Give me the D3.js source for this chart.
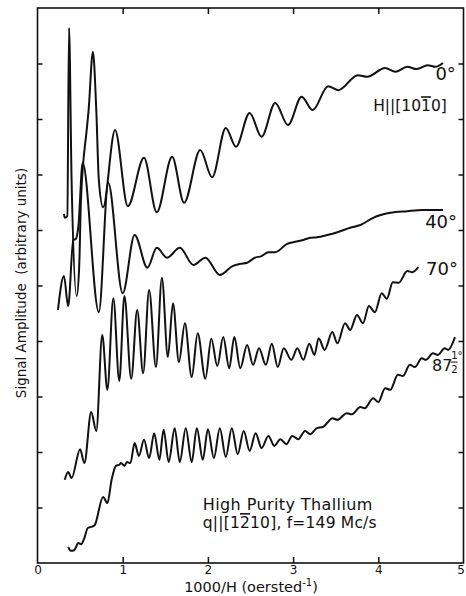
<!DOCTYPE html>
<html>
<head>
<meta charset="utf-8">
<script src="https://cdn.jsdelivr.net/npm/d3@7"></script>
<style>
body { margin: 0; background: #fff; }
svg { display: block; background: #fff; }
text { font-family: "DejaVu Sans", sans-serif; fill: #111; }
</style>
</head>
<body>
<svg width="466" height="596"></svg>
<script>
// 1000/H (oersted^-1) vs signal amplitude (arbitrary units), one array per angle
var deg0 = [[0.31,6.29],[0.32,6.22],[0.35,6.25],[0.37,9.64],[0.40,6.90],[0.46,4.81],[0.49,5.37],[0.51,6.54],
  [0.58,7.84],[0.60,8.16],[0.65,9.21],[0.69,8.16],[0.72,6.90],[0.77,6.41],[0.91,7.80],[1.06,6.43],[1.25,7.30],
  [1.40,6.32],[1.58,7.32],[1.72,6.49],[1.91,7.44],[2.05,6.95],[2.21,7.84],[2.33,7.50],[2.49,8.11],[2.63,7.68],
  [2.79,8.29],[2.94,7.89],[3.10,8.40],[3.23,8.16],[3.41,8.59],[3.53,8.52],[3.76,8.79],[3.87,8.76],[4.08,8.92],
  [4.20,8.85],[4.34,8.94],[4.45,8.90],[4.58,8.97],[4.67,8.94],[4.76,9.01]];

var deg40 = [[0.24,4.56],[0.31,5.17],[0.36,4.63],[0.42,5.82],[0.45,5.84],[0.48,6.07],[0.53,7.21],[0.72,4.52],
  [0.83,6.85],[1.00,4.86],[1.14,5.91],[1.29,5.32],[1.40,5.68],[1.52,5.50],[1.67,5.68],[1.83,5.37],[1.97,5.50],
  [2.14,5.19],[2.29,5.35],[2.38,5.39],[2.46,5.41],[2.55,5.50],[2.63,5.53],[2.71,5.60],[2.79,5.60],[2.93,5.75],
  [3.00,5.78],[3.12,5.82],[3.20,5.86],[3.28,5.87],[3.40,5.91],[3.52,5.96],[3.67,6.04],[3.79,6.09],[3.94,6.22],
  [4.14,6.31],[4.34,6.34],[4.52,6.36],[4.76,6.36]];

var deg70 = [[0.32,1.50],[0.36,1.64],[0.40,1.53],[0.50,2.05],[0.55,1.80],[0.63,2.72],[0.69,2.38],[0.76,4.11],
  [0.82,3.12],[0.89,4.77],[0.96,3.28],[1.02,4.81],[1.10,3.32],[1.17,4.56],[1.24,3.42],[1.31,4.92],[1.39,3.53],
  [1.46,5.14],[1.53,3.71],[1.59,4.68],[1.66,3.62],[1.73,4.32],[1.81,3.35],[1.88,4.14],[1.97,3.32],[2.04,4.04],
  [2.11,3.55],[2.18,4.07],[2.25,3.51],[2.31,4.07],[2.38,3.51],[2.46,3.93],[2.53,3.57],[2.60,3.87],[2.68,3.57],
  [2.75,3.95],[2.82,3.53],[2.89,3.87],[2.98,3.66],[3.05,3.87],[3.12,3.66],[3.19,3.95],[3.25,3.75],[3.30,4.05],
  [3.37,3.84],[3.46,4.16],[3.52,3.96],[3.61,4.32],[3.67,4.20],[3.75,4.47],[3.82,4.32],[3.89,4.63],[3.96,4.52],
  [4.04,4.86],[4.10,4.76],[4.17,5.06],[4.24,5.05],[4.34,5.26],[4.40,5.24],[4.47,5.33]];

var deg87 = [[0.36,0.29],[0.39,0.22],[0.43,0.23],[0.48,0.36],[0.51,0.34],[0.55,0.45],[0.59,0.63],[0.63,0.65],
  [0.67,0.68],[0.77,1.19],[0.82,1.08],[0.87,1.50],[0.92,1.75],[0.96,1.77],[0.98,1.80],[1.02,1.75],[1.05,1.82],
  [1.09,1.80],[1.14,2.16],[1.19,1.93],[1.25,2.22],[1.31,1.89],[1.37,2.34],[1.43,1.86],[1.48,2.40],[1.54,1.82],
  [1.61,2.43],[1.67,1.82],[1.74,2.43],[1.81,1.82],[1.87,2.43],[1.94,1.86],[2.00,2.41],[2.07,1.89],[2.14,2.43],
  [2.21,1.91],[2.28,2.43],[2.35,1.96],[2.42,2.38],[2.49,2.02],[2.56,2.34],[2.63,2.07],[2.71,2.29],[2.78,2.11],
  [2.85,2.23],[2.92,2.14],[2.99,2.29],[3.06,2.23],[3.14,2.38],[3.20,2.32],[3.28,2.43],[3.35,2.45],[3.41,2.54],
  [3.46,2.61],[3.52,2.58],[3.63,2.70],[3.69,2.68],[3.79,2.81],[3.84,2.79],[3.94,2.97],[4.00,2.90],[4.08,3.15],
  [4.14,3.12],[4.23,3.39],[4.29,3.37],[4.37,3.57],[4.43,3.53],[4.51,3.69],[4.56,3.66],[4.64,3.78],[4.70,3.75],
  [4.78,3.87],[4.82,3.84],[4.90,4.07]];

var xTicks = [0, 1, 2, 3, 4, 5];
var innerX = [1, 2, 3, 4];
var yTicks = [1, 2, 3, 4, 5, 6, 7, 8, 9];

var svg = d3.select("svg");

var x = d3.scaleLinear().domain([0, 5]).range([37.5, 463.5]);
var y = d3.scaleLinear().domain([0, 10]).range([563, 8]);

// frame
svg.append("rect")
  .attr("x", x(0)).attr("y", y(10))
  .attr("width", x(5) - x(0)).attr("height", y(0) - y(10))
  .attr("fill", "none").attr("stroke", "#111").attr("stroke-width", 1.6);

function inward(g) {
  g.select(".domain").remove();
  g.selectAll(".tick line").attr("stroke", "#111").attr("stroke-width", 1.5);
}

svg.append("g").attr("transform", "translate(0," + y(0) + ")")
  .call(d3.axisBottom(x).tickValues(innerX).tickSize(-6).tickFormat(""))
  .call(inward);
svg.append("g").attr("transform", "translate(0," + y(10) + ")")
  .call(d3.axisTop(x).tickValues(innerX).tickSize(-6).tickFormat(""))
  .call(inward);
svg.append("g").attr("transform", "translate(" + x(0) + ",0)")
  .call(d3.axisLeft(y).tickValues(yTicks).tickSize(-5).tickFormat(""))
  .call(inward);
svg.append("g").attr("transform", "translate(" + x(5) + ",0)")
  .call(d3.axisRight(y).tickValues(yTicks).tickSize(-5).tickFormat(""))
  .call(inward);

// tick labels
var lab = svg.append("g").attr("transform", "translate(0," + y(0) + ")")
  .call(d3.axisBottom(x).tickValues(xTicks).tickSize(0).tickPadding(2).tickFormat(d3.format("d")));
lab.select(".domain").remove();
lab.selectAll("text").attr("font-size", 12).attr("font-family", "DejaVu Sans").attr("fill", "#111")
  .attr("dx", function(d) { return d === 5 ? -3 : 0; });

// curves
var line = d3.line()
  .x(function(d) { return x(d[0]); })
  .y(function(d) { return y(d[1]); })
  .curve(d3.curveMonotoneX);

[deg0, deg40, deg70, deg87].forEach(function(s) {
  svg.append("path")
    .attr("d", line(s))
    .attr("fill", "none")
    .attr("stroke", "#111")
    .attr("stroke-width", 2)
    .attr("stroke-linejoin", "round");
});

// angle labels
function label(tx, ty, str, size) {
  return svg.append("text").attr("x", x(tx)).attr("y", y(ty)).attr("font-size", size)
    .attr("font-family", "DejaVu Sans Condensed").text(str);
}
label(4.67, 8.70, "0°", 18);
label(4.55, 6.04, "40°", 18);
label(4.56, 5.19, "70°", 18);
label(4.63, 3.46, "87", 16);
// 1/2 fraction
label(4.855, 3.68, "1°", 10);
label(4.855, 3.42, "2", 10);
svg.append("line")
  .attr("x1", x(4.85)).attr("x2", x(4.93))
  .attr("y1", y(3.62)).attr("y2", y(3.62))
  .attr("stroke", "#111").attr("stroke-width", 1);

var h = svg.append("text").attr("x", x(3.94)).attr("y", y(8.14)).attr("font-size", 15.5)
  .attr("font-family", "DejaVu Sans Condensed");
h.append("tspan").text("H||[10");
h.append("tspan").style("text-decoration", "overline").text("1");
h.append("tspan").text("0]");

// sample note
svg.append("text").attr("x", x(1.94)).attr("y", y(0.95)).attr("font-size", 16)
  .attr("letter-spacing", 0.4).text("High Purity Thallium");
var q = svg.append("text").attr("x", x(1.94)).attr("y", y(0.63)).attr("font-size", 15.5)
  .attr("letter-spacing", 0.2);
q.append("tspan").text("q||[1");
q.append("tspan").style("text-decoration", "overline").text("2");
q.append("tspan").text("10], f=149 Mc/s");

// axis titles
var xt = svg.append("text").attr("x", 251).attr("y", 592).attr("text-anchor", "middle").attr("font-size", 14.5);
xt.append("tspan").text("1000/H (oersted");
xt.append("tspan").attr("dy", -6).attr("font-size", 10).text("-1");
xt.append("tspan").attr("dy", 6).text(")");

svg.append("text")
  .attr("transform", "translate(26,283) rotate(-90)")
  .attr("text-anchor", "middle")
  .attr("font-size", 13.5)
  .attr("xml:space", "preserve")
  .text("Signal Amplitude  (arbitrary units)");
</script>
</body>
</html>
